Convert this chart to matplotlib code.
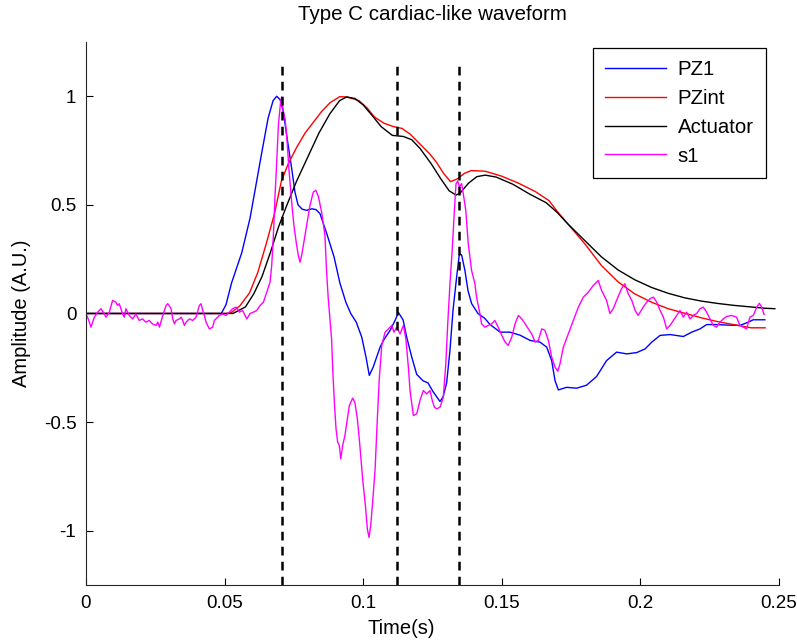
import matplotlib
matplotlib.use("Agg")
import matplotlib.pyplot as plt

plt.rcParams['font.family'] = ['Liberation Sans', 'DejaVu Sans']

# ---- data ----
t_pz1 = [0, 0.0488, 0.0505, 0.0525, 0.0562, 0.0592, 0.0613, 0.0634, 0.0657, 0.0675, 0.0688,
         0.0700, 0.0712, 0.0724, 0.0742, 0.0754, 0.0765, 0.0780, 0.0796, 0.0815, 0.0830,
         0.0844, 0.0868, 0.0895, 0.0916, 0.0938, 0.0955, 0.0975, 0.0995, 0.1010, 0.1022,
         0.1036, 0.1061, 0.1073, 0.1097, 0.1115, 0.1127, 0.1144, 0.1157, 0.1175, 0.1193,
         0.1216, 0.1234, 0.1252, 0.1277, 0.1288, 0.1301, 0.1313, 0.1324, 0.1337, 0.1347,
         0.1355, 0.1367, 0.1378, 0.1391, 0.1414, 0.1439, 0.1457, 0.1494, 0.1530, 0.1566,
         0.1602, 0.1638, 0.1662, 0.1680, 0.1692, 0.1704, 0.1734, 0.1770, 0.1806, 0.1842,
         0.1878, 0.1914, 0.1951, 0.1987, 0.2017, 0.2041, 0.2071, 0.2107, 0.2155, 0.2185,
         0.2215, 0.2239, 0.2275, 0.2323, 0.2359, 0.2389, 0.2407, 0.2449]
pz1 = [0, 0, 0.04, 0.14, 0.28, 0.44, 0.59, 0.74, 0.90, 0.98, 1.0,
       0.985, 0.93, 0.82, 0.668, 0.558, 0.50, 0.48, 0.475, 0.482, 0.478,
       0.46, 0.37, 0.26, 0.14, 0.05, 0.0, -0.04, -0.11, -0.20, -0.285,
       -0.247, -0.155, -0.124, -0.078, -0.032, 0.005, -0.03, -0.109, -0.20, -0.28,
       -0.31, -0.32, -0.36, -0.405, -0.385, -0.32, -0.17, 0.014, 0.167, 0.275,
       0.27, 0.198, 0.106, 0.046, 0.0, -0.023, -0.05, -0.086, -0.086, -0.10,
       -0.124, -0.132, -0.155, -0.217, -0.309, -0.352, -0.34, -0.344, -0.33, -0.29,
       -0.217, -0.178, -0.186, -0.18, -0.163, -0.132, -0.101, -0.097, -0.106, -0.086,
       -0.071, -0.051, -0.051, -0.054, -0.055, -0.040, -0.029, -0.029]

t_pzint = [0, 0.0505, 0.0525, 0.0555, 0.0590, 0.0620, 0.0650, 0.0680, 0.0705, 0.0730,
           0.0760, 0.0790, 0.0820, 0.0850, 0.0880, 0.0915, 0.0940, 0.0985, 0.1015, 0.1040,
           0.1075, 0.1110, 0.1140, 0.1170, 0.1205, 0.1240, 0.1265, 0.1290, 0.1315, 0.1340,
           0.1365, 0.1390, 0.1440, 0.1500, 0.1560, 0.1620, 0.1670, 0.1700, 0.1740, 0.1800,
           0.1860, 0.1920, 0.1980, 0.2040, 0.2100, 0.2160, 0.2220, 0.2280, 0.2340, 0.2390,
           0.2400, 0.2450]
pzint = [0, 0, 0.005, 0.035, 0.095, 0.19, 0.32, 0.46, 0.61, 0.69,
         0.765, 0.83, 0.88, 0.93, 0.97, 0.998, 0.997, 0.98, 0.945, 0.905,
         0.876, 0.86, 0.852, 0.825, 0.78, 0.735, 0.695, 0.645, 0.607, 0.62,
         0.645, 0.658, 0.655, 0.632, 0.60, 0.562, 0.52, 0.47, 0.41, 0.32,
         0.22, 0.145, 0.09, 0.052, 0.022, 0.001, -0.02, -0.038, -0.052, -0.064,
         -0.066, -0.066]

t_act = [0, 0.0530, 0.0575, 0.0605, 0.0635, 0.0665, 0.0695, 0.0725, 0.0760, 0.0800,
         0.0840, 0.0880, 0.0915, 0.0940, 0.0970, 0.1000, 0.1030, 0.1065, 0.1105, 0.1145,
         0.1175, 0.1205, 0.1245, 0.1280, 0.1310, 0.1335, 0.1350, 0.1380, 0.1410, 0.1440,
         0.1480, 0.1540, 0.1600, 0.1660, 0.1700, 0.1740, 0.1800, 0.1860, 0.1920, 0.1980,
         0.2040, 0.2100, 0.2160, 0.2220, 0.2280, 0.2340, 0.2400, 0.2450, 0.2485]
act = [0, 0, 0.03, 0.09, 0.17, 0.28, 0.40, 0.50, 0.61, 0.72,
       0.83, 0.92, 0.98, 0.997, 0.99, 0.96, 0.915, 0.86, 0.82, 0.815,
       0.80, 0.76, 0.69, 0.62, 0.565, 0.545, 0.555, 0.60, 0.63, 0.637,
       0.628, 0.595, 0.55, 0.51, 0.465, 0.41, 0.335, 0.26, 0.20, 0.155,
       0.12, 0.093, 0.072, 0.057, 0.046, 0.037, 0.030, 0.024, 0.022]

t_s1 = [0, 0.0010, 0.0018, 0.0030, 0.0042, 0.0054, 0.0066, 0.0072, 0.0084, 0.0096,
        0.0108, 0.0114, 0.0120, 0.0132, 0.0138, 0.0144, 0.0156, 0.0168, 0.0180, 0.0192,
        0.0204, 0.0216, 0.0228, 0.0240, 0.0253, 0.0259, 0.0265, 0.0277, 0.0289, 0.0295,
        0.0307, 0.0313, 0.0319, 0.0325, 0.0337, 0.0343, 0.0349, 0.0355, 0.0361, 0.0373,
        0.0385, 0.0397, 0.0409, 0.0415, 0.0421, 0.0427, 0.0433, 0.0439, 0.0445, 0.0457,
        0.0463, 0.0475, 0.0481, 0.0493, 0.0505, 0.0517, 0.0529, 0.0541, 0.0547, 0.0553,
        0.0565, 0.0580, 0.0592, 0.0604, 0.0616, 0.0628, 0.0640, 0.0652, 0.0664, 0.0670,
        0.0676, 0.0682, 0.0688, 0.0694, 0.0702, 0.0706, 0.0712, 0.0718, 0.0724, 0.0732,
        0.0742, 0.0750, 0.0760, 0.0766, 0.0772, 0.0778, 0.0786, 0.0796, 0.0808, 0.0820,
        0.0829, 0.0838, 0.0850, 0.0862, 0.0868, 0.0874, 0.0880, 0.0886, 0.0890, 0.0896,
        0.0902, 0.0908, 0.0914, 0.0919, 0.0926, 0.0934, 0.0943, 0.0950, 0.0962, 0.0970,
        0.0979, 0.0988, 0.0998, 0.1008, 0.1015, 0.1021, 0.1027, 0.1034, 0.1043, 0.1051,
        0.1058, 0.1067, 0.1079, 0.1091, 0.1103, 0.1111, 0.1121, 0.1133, 0.1145, 0.1154,
        0.1163, 0.1169, 0.1181, 0.1193, 0.1205, 0.1217, 0.1229, 0.1241, 0.1249, 0.1257,
        0.1265, 0.1277, 0.1289, 0.1298, 0.1305, 0.1313, 0.1321, 0.1329, 0.1335, 0.1341,
        0.1347, 0.1355, 0.1361, 0.1370, 0.1379, 0.1391, 0.1403, 0.1409, 0.1421, 0.1427,
        0.1439, 0.1451, 0.1464, 0.1475, 0.1487, 0.1500, 0.1512, 0.1523, 0.1536, 0.1548,
        0.1560, 0.1572, 0.1584, 0.1596, 0.1608, 0.1620, 0.1632, 0.1644, 0.1656, 0.1668,
        0.1680, 0.1692, 0.1702, 0.1710, 0.1722, 0.1740, 0.1758, 0.1776, 0.1794, 0.1812,
        0.1830, 0.1848, 0.1860, 0.1878, 0.1890, 0.1902, 0.1914, 0.1932, 0.1944, 0.1956,
        0.1969, 0.1981, 0.1992, 0.1999, 0.2010, 0.2023, 0.2035, 0.2047, 0.2059, 0.2071,
        0.2083, 0.2095, 0.2107, 0.2119, 0.2131, 0.2143, 0.2155, 0.2167, 0.2179, 0.2191,
        0.2203, 0.2215, 0.2227, 0.2239, 0.2251, 0.2263, 0.2275, 0.2287, 0.2299, 0.2311,
        0.2329, 0.2347, 0.2359, 0.2371, 0.2383, 0.2395, 0.2407, 0.2420, 0.2429, 0.2438,
        0.2446]
s1 = [0.0, -0.032, -0.063, -0.017, 0.006, 0.022, -0.002, -0.017, 0.006, 0.060,
      0.052, 0.037, 0.045, -0.002, -0.017, 0.022, -0.009, -0.025, -0.002, -0.032,
      -0.025, -0.040, -0.032, -0.048, -0.055, -0.040, -0.063, -0.009, 0.037, 0.045,
      0.022, -0.025, -0.048, -0.032, -0.025, -0.017, -0.032, -0.055, -0.040, -0.025,
      -0.032, -0.017, 0.037, 0.045, 0.014, -0.009, -0.040, -0.055, -0.071, -0.063,
      -0.032, -0.017, -0.009, -0.002, -0.009, 0.006, 0.022, 0.029, 0.022, 0.006,
      0.014, -0.025, 0.0, 0.006, 0.014, 0.037, 0.052, 0.098, 0.144, 0.221,
      0.36, 0.544, 0.697, 0.866, 0.974, 0.997, 0.928, 0.897, 0.82, 0.667,
      0.513, 0.406, 0.313, 0.267, 0.236, 0.267, 0.329, 0.406, 0.498, 0.559,
      0.567, 0.540, 0.467, 0.36, 0.19, 0.068, -0.025, -0.117, -0.255, -0.409,
      -0.531, -0.593, -0.608, -0.67, -0.608, -0.562, -0.485, -0.424, -0.39, -0.41,
      -0.485, -0.608, -0.762, -0.885, -0.992, -1.031, -0.977, -0.87, -0.716, -0.485,
      -0.301, -0.147, -0.086, -0.071, -0.055, -0.086, -0.063, -0.094, -0.055, -0.117,
      -0.247, -0.355, -0.47, -0.462, -0.40, -0.355, -0.37, -0.355, -0.40, -0.432,
      -0.439, -0.432, -0.386, -0.232, -0.047, 0.137, 0.29, 0.475, 0.598, 0.61,
      0.582, 0.598, 0.552, 0.475, 0.321, 0.198, 0.137, 0.075, 0.0, -0.047,
      -0.063, -0.055, -0.047, -0.032, -0.063, -0.101, -0.132, -0.147, -0.109, -0.047,
      -0.009, -0.025, -0.047, -0.071, -0.094, -0.132, -0.124, -0.071, -0.078, -0.124,
      -0.201, -0.247, -0.266, -0.232, -0.155, -0.094, -0.032, 0.029, 0.075, 0.098,
      0.129, 0.152, 0.106, 0.06, 0.0, 0.022, 0.06, 0.114, 0.137, 0.091,
      0.06, 0.014, -0.009, 0.006, 0.029, 0.052, 0.068, 0.075, 0.052, 0.014,
      -0.017, -0.071, -0.055, -0.032, -0.009, 0.014, -0.017, 0.006, -0.025, -0.009,
      0.0, 0.022, 0.029, 0.006, -0.025, -0.055, -0.063, -0.04, -0.025, -0.014,
      -0.009, -0.017, -0.055, -0.063, -0.071, -0.017, -0.009, 0.029, 0.047, 0.029,
      -0.005]

marker_times = [0.0707, 0.1122, 0.1346]
marker_top = 1.15

series_names = ['PZ1', 'PZint', 'Actuator', 's1']
series_colors = ['#0000ff', '#ff0000', '#000000', '#ff00ff']

x_ticks = [0, 0.05, 0.1, 0.15, 0.2, 0.25]
x_tick_labels = ['0', '0.05', '0.1', '0.15', '0.2', '0.25']
y_ticks = [-1, -0.5, 0, 0.5, 1]
y_tick_labels = ['-1', '-0.5', '0', '0.5', '1']

title = 'Type C cardiac-like waveform'
xlabel = 'Time(s)'
ylabel = 'Amplitude (A.U.)'

# ---- figure ----
fig = plt.figure(figsize=(7.97, 6.41), dpi=100)
ax = fig.add_axes([0.1079, 0.0874, 0.8695, 0.8471])

series = [(t_pz1, pz1), (t_pzint, pzint), (t_act, act), (t_s1, s1)]
for (tt, yy), name, col in zip(series, series_names, series_colors):
    ax.plot(tt, yy, color=col, lw=1.0, label=name)

for mt in marker_times:
    ax.plot([mt, mt], [-1.25, marker_top], color='black', lw=1.8,
            linestyle=(0, (3.5, 2.5)))

ax.set_xlim(0, 0.25)
ax.set_ylim(-1.25, 1.25)
ax.set_xticks(x_ticks)
ax.set_xticklabels(x_tick_labels)
ax.set_yticks(y_ticks)
ax.set_yticklabels(y_tick_labels)
ax.tick_params(direction='in', length=5, width=0.8, labelsize=13.5, pad=7)
for side in ['top', 'right']:
    ax.spines[side].set_visible(False)
for side in ['left', 'bottom']:
    ax.spines[side].set_color('#262626')
    ax.spines[side].set_linewidth(0.8)

ax.set_title(title, fontsize=14.8, pad=16)
ax.set_xlabel(xlabel, fontsize=14.5, labelpad=5)
ax.xaxis.set_label_coords(0.455, -0.062)
ax.set_ylabel(ylabel, fontsize=14.5, labelpad=9)

handles = ax.get_lines()[:4]
leg = ax.legend(handles, series_names, loc='upper right',
                bbox_to_anchor=(0.981, 0.989), borderaxespad=0,
                fontsize=14.7, handlelength=3.0, handletextpad=0.55,
                labelspacing=0.48, borderpad=0.6, fancybox=False,
                framealpha=1, edgecolor='black')
leg.get_frame().set_linewidth(0.9)

fig.savefig('out.png', dpi=100)
